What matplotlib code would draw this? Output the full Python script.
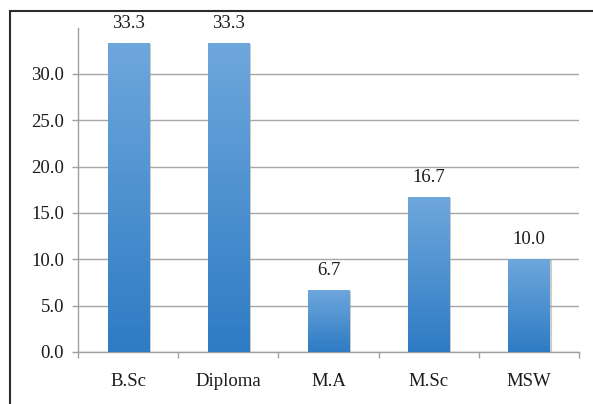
import matplotlib
matplotlib.use("Agg")
import matplotlib.pyplot as plt
import numpy as np
from matplotlib.colors import LinearSegmentedColormap
from matplotlib.patches import Rectangle
import matplotlib.patheffects as pe

categories = ["B.Sc", "Diploma", "M.A", "M.Sc", "MSW"]
values = [33.3, 33.3, 6.7, 16.7, 10.0]
yticks = [0, 5, 10, 15, 20, 25, 30]

plt.rcParams['font.family'] = ['Liberation Serif', 'DejaVu Serif']

fig = plt.figure(figsize=(5.93, 4.04), dpi=100)
ax = fig.add_axes([78/593, 1-352/404, (579-78)/593, (352-27.6)/404])

x = np.arange(len(categories))
width = 0.41
cmap = LinearSegmentedColormap.from_list("g", ["#2e7bc4", "#6ea7dc"])
grad = np.linspace(0, 1, 256).reshape(-1, 1)

bars = ax.bar(x, values, width=width, color="#4a90d0", zorder=3,
              path_effects=[pe.SimplePatchShadow(offset=(1.5, -0.5), shadow_rgbFace="#9a9a9a", alpha=0.5), pe.Normal()])
for b in bars:
    x0, y0 = b.get_x(), b.get_y()
    w, h = b.get_width(), b.get_height()
    im = ax.imshow(grad, cmap=cmap, origin="lower", aspect="auto",
                   extent=[x0, x0 + w, y0, y0 + h], zorder=4)
    im.set_clip_path(b)

for xi, v in zip(x, values):
    ax.annotate(f"{v:.1f}", (xi, v), xytext=(0, 14), textcoords="offset points",
                ha="center", va="center", fontsize=13.5, color="#1a1a1a", zorder=6)

ax.set_xlim(-0.5, len(categories) - 0.5)
ax.set_ylim(0, 35)
ax.set_yticks(yticks)
ax.set_yticklabels([f"{t:.1f}" for t in yticks])
ax.set_xticks(x)
ax.set_xticklabels(categories)
ax.set_xticks(np.arange(len(categories) + 1) - 0.5, minor=True)
ax.tick_params(axis="x", which="major", length=0, pad=15, labelsize=13.5, colors="#1a1a1a")
ax.tick_params(axis="x", which="minor", length=4, width=1, color="#a0a0a0", direction="out")
ax.tick_params(axis="y", length=4, width=1, color="#a0a0a0", pad=6, labelsize=13.5, labelcolor="#1a1a1a")

ax.grid(axis="y", color="#a6a6a6", linewidth=1, zorder=0)
ax.set_axisbelow(True)
for s in ["top", "right"]:
    ax.spines[s].set_visible(False)
for s in ["left", "bottom"]:
    ax.spines[s].set_color("#a0a0a0")
    ax.spines[s].set_linewidth(1)

# outer chart frame
frame = Rectangle((9.5/593, -0.05), 1.1, 1 - 11/404 + 0.05, transform=fig.transFigure,
                  fill=False, edgecolor="#2b2b2b", linewidth=1.5)
fig.patches.append(frame)

fig.savefig("out.png", dpi=100)
